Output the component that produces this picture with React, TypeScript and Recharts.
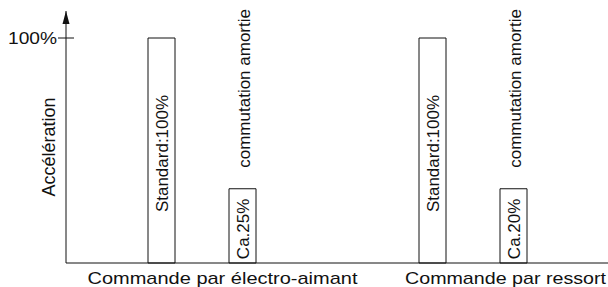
import React from 'react';
import { BarChart, Bar, XAxis, YAxis, LabelList } from 'recharts';

const groups = ['Commande par électro-aimant', 'Commande par ressort'];
const standardValues = [100, 100];
const amortieValues = [33, 33];
const standardLabels = ['Standard:100%', 'Standard:100%'];
const amortieLabels = ['Ca.25%', 'Ca.20%'];
const amortieNotes = ['commutation amortie', 'commutation amortie'];
const yTicks = [100, 112];
const yTickLabels: Record<number, string> = { 100: '100%' };
const yTitle = 'Accélération';

const data = groups.map((g, i) => ({
  group: g,
  standard: standardValues[i],
  amortie: amortieValues[i],
  stdLabel: standardLabels[i],
  amLabel: amortieLabels[i],
  note: amortieNotes[i],
}));

const FONT = '"Liberation Sans", Arial, Helvetica, sans-serif';
const INK = '#111';

const xTickDx = [21, 33];
const xTickLen = [270, 201];

const XTick = (props: any) => {
  const { x, y, payload, index } = props;
  return (
    <text
      x={x + xTickDx[index]}
      y={y + 21}
      textAnchor="middle"
      fontFamily={FONT}
      fontSize={17}
      fill={INK}
      textLength={xTickLen[index]}
      lengthAdjust="spacingAndGlyphs"
    >
      {payload.value}
    </text>
  );
};

const YTick = (props: any) => {
  const { x, y, payload } = props;
  if (payload.value === 112) {
    return (
      <polygon points={`${x},${y} ${x - 3.5},${y + 13} ${x + 3.5},${y + 13}`} fill={INK} />
    );
  }
  return (
    <g>
      <line x1={x - 8} x2={x + 8} y1={y} y2={y} stroke={INK} strokeWidth={1} />
      <text
        x={x - 9}
        y={y + 6}
        textAnchor="end"
        fontFamily={FONT}
        fontSize={17}
        fill={INK}
        textLength={49}
        lengthAdjust="spacingAndGlyphs"
      >
        {yTickLabels[payload.value]}
      </text>
    </g>
  );
};

const InnerLabel = (props: any) => {
  const { x, y, width, height, value } = props;
  const cx = x + width / 2 + 6;
  const cy = y + height / 2 + 3;
  return (
    <text
      x={cx}
      y={cy}
      transform={`rotate(-90 ${cx} ${cy})`}
      textAnchor="middle"
      fontFamily={FONT}
      fontSize={17}
      fill={INK}
    >
      {value}
    </text>
  );
};

const NoteLabel = (props: any) => {
  const { x, y, width, value } = props;
  const cx = x + width / 2 + 7;
  const cy = y - 21;
  return (
    <text
      x={cx}
      y={cy}
      transform={`rotate(-90 ${cx} ${cy})`}
      textAnchor="start"
      fontFamily={FONT}
      fontSize={17}
      fill={INK}
    >
      {value}
    </text>
  );
};

const YTitle = (props: any) => {
  const vb = props.viewBox || { x: 0, y: 11, width: 66, height: 252 };
  const cx = vb.x + vb.width - 11;
  const cy = vb.y + vb.height / 2 + 10;
  return (
    <text
      x={cx}
      y={cy}
      transform={`rotate(-90 ${cx} ${cy})`}
      textAnchor="middle"
      fontFamily={FONT}
      fontSize={18}
      fill={INK}
    >
      {yTitle}
    </text>
  );
};

export default function App() {
  return (
    <div style={{ position: 'absolute', left: 0, top: 0, width: 608, height: 287, background: '#fff' }}>
      <BarChart
        width={608}
        height={287}
        data={data}
        margin={{ top: 11, right: 0, bottom: 0, left: 0 }}
        barSize={27}
        barGap={54}
      >
        <XAxis
          dataKey="group"
          axisLine={{ stroke: INK, strokeWidth: 1 }}
          tickLine={false}
          tickSize={0}
          tickMargin={0}
          tick={<XTick />}
          interval={0}
          height={24}
        />
        <YAxis
          type="number"
          domain={[0, 112]}
          ticks={yTicks}
          interval={0}
          width={66}
          axisLine={{ stroke: INK, strokeWidth: 1 }}
          tickLine={false}
          tickSize={0}
          tickMargin={0}
          tick={<YTick />}
          label={<YTitle />}
        />
        <Bar dataKey="standard" fill="#fff" stroke={INK} strokeWidth={1} isAnimationActive={false}>
          <LabelList dataKey="stdLabel" content={<InnerLabel />} />
        </Bar>
        <Bar dataKey="amortie" fill="#fff" stroke={INK} strokeWidth={1} isAnimationActive={false}>
          <LabelList dataKey="amLabel" content={<InnerLabel />} />
          <LabelList dataKey="note" content={<NoteLabel />} />
        </Bar>
      </BarChart>
    </div>
  );
}
